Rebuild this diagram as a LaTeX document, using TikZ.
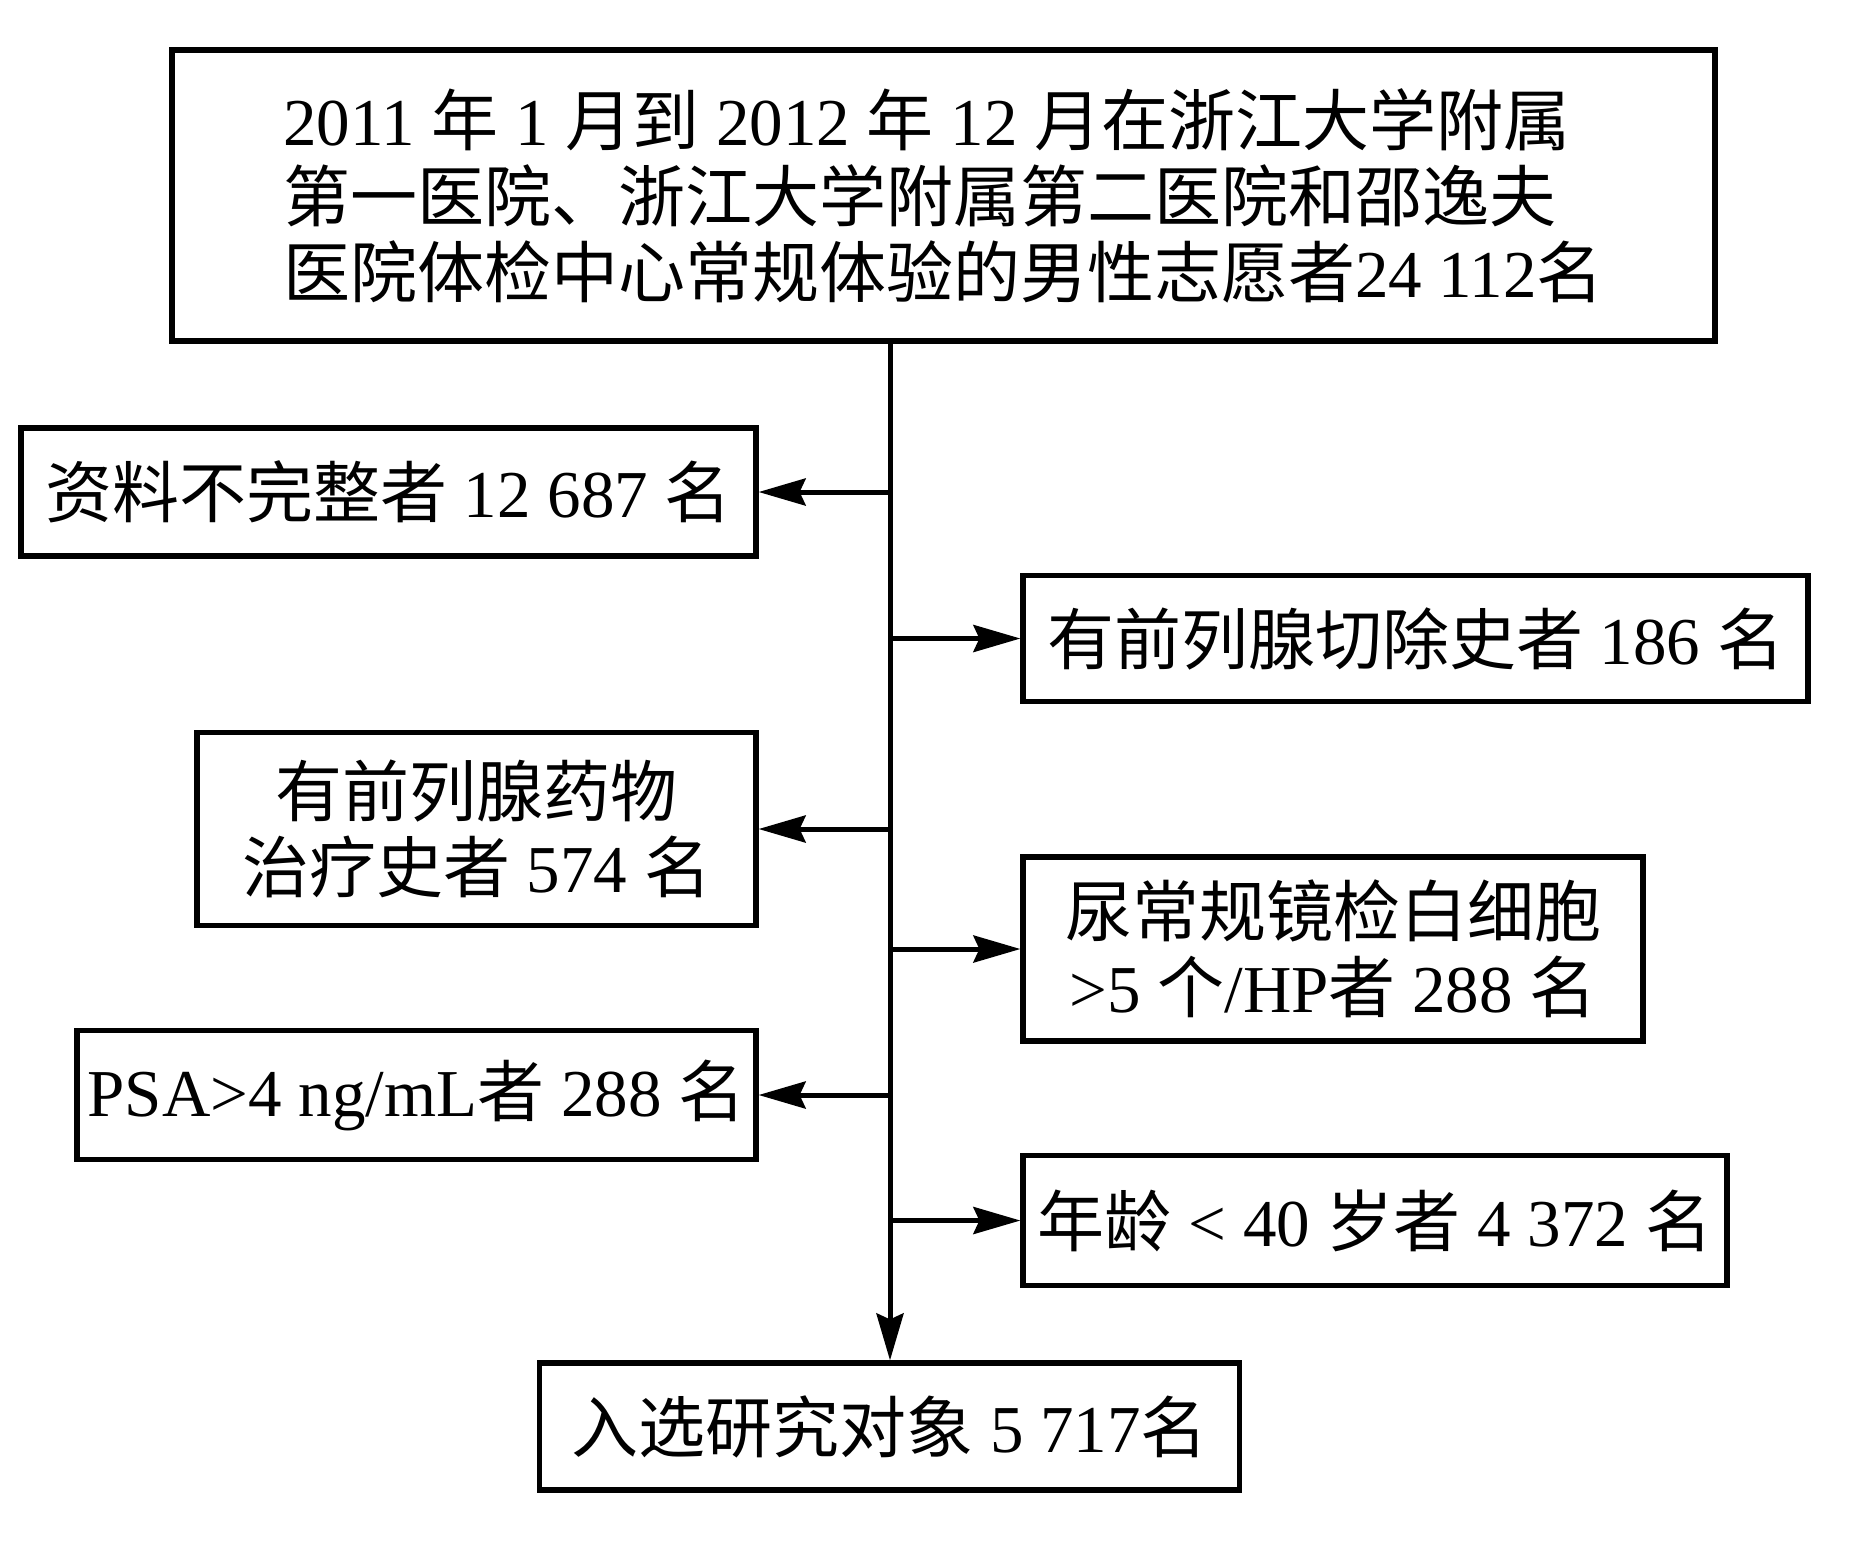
\documentclass[tikz,border=0pt]{standalone}
\usepackage{fontspec}
\setmainfont{Liberation Serif}
\newfontfamily\zhf{Noto Sans CJK SC}
\newcommand\zh[1]{{\zhf #1}}
\usetikzlibrary{arrows.meta}
\begin{document}
\begin{tikzpicture}[x=0.5pt,y=-0.5pt,
  box/.style={draw,line width=2.6pt,inner sep=0pt,align=center,
    font=\fontsize{33.5}{38}\selectfont},
  arr/.style={line width=2.5pt,-{Stealth[length=23.5pt,width=13.5pt,inset=3pt]}}]
\useasboundingbox (0,0) rectangle (1851,1549);
\node[box,align=left,minimum width=771.5pt,minimum height=145.5pt] (top) at (943.5,195.5)
  {2011 \zh{年} 1 \zh{月到} 2012 \zh{年} 12 \zh{月在浙江大学附属}\\
   \zh{第一医院、浙江大学附属第二医院和邵逸夫}\\
   \zh{医院体检中心常规体验的男性志愿者}24 112\zh{名}};
\node[box,minimum width=367.5pt,minimum height=64pt] (b1) at (388.5,492)
  {\zh{资料不完整者} 12 687 \zh{名}};
\node[box,minimum width=392.5pt,minimum height=63pt] (b2) at (1415.5,638.5)
  {\zh{有前列腺切除史者} 186 \zh{名}};
\node[box,minimum width=279.5pt,minimum height=96.5pt] (b3) at (476.5,829)
  {\zh{有前列腺药物}\\\zh{治疗史者} 574 \zh{名}};
\node[box,minimum width=310pt,minimum height=92pt] (b4) at (1333,949)
  {\zh{尿常规镜检白细胞}\\>5 \zh{个}/HP\zh{者} 288 \zh{名}};
\node[box,minimum width=339.5pt,minimum height=64.5pt] (b5) at (416.5,1095)
  {PSA>4 ng/mL\zh{者} 288 \zh{名}};
\node[box,minimum width=352pt,minimum height=65pt] (b6) at (1375,1220.5)
  {\zh{年龄} < 40 \zh{岁者} 4 372 \zh{名}};
\node[box,minimum width=350pt,minimum height=63.5pt] (bot) at (889.5,1426.5)
  {\zh{入选研究对象} 5 717\zh{名}};
\coordinate (sp) at (890,0);
\draw[arr] (sp |- top.south) -- (sp |- bot.north);
\draw[arr] (sp |- b1.east) -- (b1.east);
\draw[arr] (sp |- b2.west) -- (b2.west);
\draw[arr] (sp |- b3.east) -- (b3.east);
\draw[arr] (sp |- b4.west) -- (b4.west);
\draw[arr] (sp |- b5.east) -- (b5.east);
\draw[arr] (sp |- b6.west) -- (b6.west);
\end{tikzpicture}
\end{document}
